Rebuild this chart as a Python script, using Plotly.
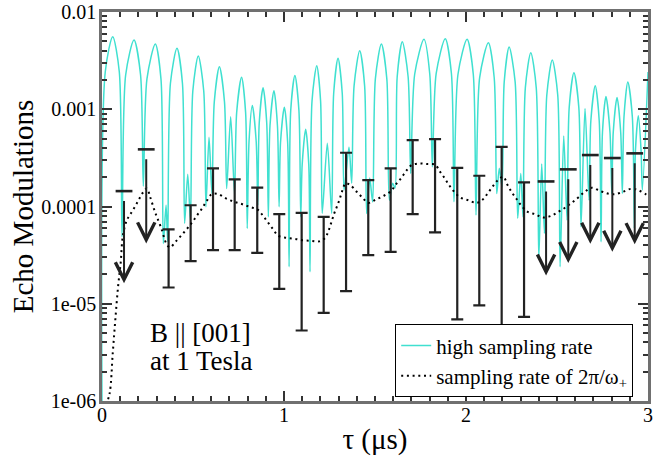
import math
import plotly.graph_objects as go

# ---- data ----
cyan_tau = [0.0, 0.018, 0.059, 0.095, 0.110, 0.130, 0.176, 0.212, 0.227, 0.247,
            0.293, 0.324, 0.337, 0.352, 0.361, 0.376, 0.412, 0.442, 0.454, 0.471,
            0.486, 0.499, 0.529, 0.559, 0.571, 0.588, 0.604, 0.617, 0.645, 0.673,
            0.685, 0.707, 0.728, 0.740, 0.767, 0.789, 0.798, 0.808, 0.826, 0.847,
            0.856, 0.864, 0.885, 0.905, 0.914, 0.923, 0.945, 0.964, 0.973, 0.981,
            1.002, 1.020, 1.028, 1.037, 1.060, 1.082, 1.092, 1.100, 1.119, 1.136,
            1.143, 1.154, 1.180, 1.201, 1.210, 1.238, 1.262, 1.273, 1.297, 1.320,
            1.330, 1.357, 1.372, 1.385, 1.416, 1.443, 1.454, 1.471, 1.487, 1.502,
            1.535, 1.565, 1.579, 1.597, 1.610, 1.622, 1.650, 1.682, 1.696, 1.718,
            1.769, 1.801, 1.815, 1.836, 1.886, 1.920, 1.934, 1.956, 2.006, 2.040,
            2.055, 2.075, 2.123, 2.155, 2.169, 2.183, 2.198, 2.210, 2.237, 2.270,
            2.284, 2.301, 2.313, 2.326, 2.356, 2.386, 2.400, 2.416, 2.431, 2.444,
            2.474, 2.504, 2.517, 2.537, 2.555, 2.567, 2.593, 2.620, 2.632, 2.654,
            2.676, 2.686, 2.710, 2.732, 2.742, 2.750, 2.769, 2.791, 2.801, 2.809,
            2.830, 2.850, 2.859, 2.868, 2.889, 2.914, 2.925, 2.931, 2.947, 2.962,
            2.969, 3.0]
cyan_val = [9.1e-7, 2.43e-3, 5.57e-3, 2.43e-3, 4.88e-5, 2.25e-3, 5.15e-3, 2.25e-3, 1.62e-4, 2.05e-3,
            4.69e-3, 2.05e-3, 4.17e-5, 1.03e-4, 4.33e-5, 1.85e-3, 4.23e-3, 1.85e-3, 6.70e-5, 2.15e-4,
            7.24e-5, 1.54e-3, 3.53e-3, 1.54e-3, 9.93e-5, 5.14e-4, 1.36e-4, 1.19e-3, 2.74e-3, 1.19e-3,
            1.53e-4, 8.37e-4, 1.36e-4, 9.29e-4, 2.13e-3, 9.29e-4, 5.95e-5, 4.74e-4, 1.09e-3, 4.74e-4,
            1.03e-4, 7.26e-4, 1.66e-3, 7.26e-4, 7.83e-5, 6.76e-4, 1.55e-3, 6.76e-4, 9.93e-5, 4.57e-4,
            1.05e-3, 4.57e-4, 2.40e-5, 9.74e-4, 2.23e-3, 9.74e-4, 7.83e-5, 2.71e-4, 6.21e-4, 2.71e-4,
            2.13e-5, 1.22e-3, 2.80e-3, 1.22e-3, 8.49e-5, 4.46e-4, 8.49e-5, 1.46e-3, 3.34e-3, 1.46e-3,
            1.48e-4, 4.06e-4, 1.73e-4, 1.74e-3, 4.00e-3, 1.74e-3, 8.49e-5, 1.96e-4, 1.11e-4, 2.05e-3,
            4.69e-3, 2.05e-3, 1.16e-4, 1.73e-4, 1.55e-4, 2.16e-3, 4.94e-3, 2.16e-3, 2.19e-4, 2.29e-3,
            5.24e-3, 2.29e-3, 2.56e-4, 2.32e-3, 5.31e-3, 2.32e-3, 1.12e-4, 2.29e-3, 5.24e-3, 2.29e-3,
            8.16e-5, 2.11e-3, 4.83e-3, 2.11e-3, 1.36e-4, 2.47e-4, 1.59e-4, 1.91e-3, 4.36e-3, 1.91e-3,
            7.55e-5, 2.19e-4, 7.83e-5, 1.66e-3, 3.81e-3, 1.66e-3, 2.92e-5, 2.73e-4, 5.28e-5, 1.40e-3,
            3.21e-3, 1.40e-3, 2.40e-5, 5.30e-4, 7.24e-5, 1.04e-3, 2.37e-3, 1.04e-3, 6.18e-5, 1.02e-3,
            1.16e-4, 7.62e-4, 1.74e-3, 7.62e-4, 4.33e-5, 5.87e-4, 1.35e-3, 5.87e-4, 1.36e-4, 5.78e-4,
            1.32e-3, 5.78e-4, 1.36e-4, 8.31e-4, 1.91e-3, 8.31e-4, 5.95e-5, 3.74e-4, 8.57e-4, 3.74e-4,
            1.48e-4, 2.41e-3]

dot_tau = [0.022, 0.042, 0.059, 0.073, 0.088, 0.103, 0.114, 0.136, 0.159, 0.183,
           0.205, 0.227, 0.247, 0.264, 0.293, 0.326, 0.355, 0.374, 0.407, 0.438,
           0.469, 0.496, 0.524, 0.549, 0.575, 0.603, 0.639, 0.681, 0.725, 0.768,
           0.812, 0.855, 0.885, 0.912, 0.941, 0.969, 1.013, 1.057, 1.103, 1.150,
           1.194, 1.225, 1.244, 1.260, 1.275, 1.290, 1.306, 1.320, 1.339, 1.364,
           1.399, 1.430, 1.463, 1.505, 1.549, 1.588, 1.615, 1.643, 1.670, 1.699,
           1.740, 1.787, 1.830, 1.857, 1.883, 1.908, 1.936, 1.967, 2.013, 2.059,
           2.092, 2.121, 2.148, 2.176, 2.205, 2.229, 2.254, 2.280, 2.306, 2.339,
           2.383, 2.423, 2.467, 2.507, 2.544, 2.581, 2.617, 2.654, 2.691, 2.735,
           2.779, 2.819, 2.863, 2.907, 2.947, 2.987, 3.0]
dot_val = [9.1e-7, 1.2e-6, 3.1e-6, 6.8e-6, 1.48e-5, 2.7e-5, 4.9e-5, 7.2e-5, 8.5e-5, 1.01e-4,
           1.2e-4, 1.41e-4, 1.53e-4, 1.26e-4, 8.6e-5, 5.96e-5, 4.1e-5, 3.8e-5, 4.4e-5, 5.1e-5,
           5.96e-5, 6.9e-5, 8.2e-5, 9.5e-5, 1.14e-4, 1.34e-4, 1.34e-4, 1.21e-4, 1.12e-4, 1.06e-4,
           9.9e-5, 9.3e-5, 8.0e-5, 6.86e-5, 5.8e-5, 5.0e-5, 4.77e-5, 4.66e-5, 4.5e-5, 4.44e-5,
           4.38e-5, 4.73e-5, 5.6e-5, 6.86e-5, 8.4e-5, 9.9e-5, 1.19e-4, 1.45e-4, 1.73e-4, 1.66e-4,
           1.42e-4, 1.24e-4, 1.09e-4, 1.18e-4, 1.29e-4, 1.44e-4, 1.69e-4, 1.95e-4, 2.3e-4, 2.65e-4,
           2.77e-4, 2.73e-4, 2.69e-4, 2.28e-4, 1.95e-4, 1.65e-4, 1.41e-4, 1.24e-4, 1.16e-4, 1.09e-4,
           1.18e-4, 1.38e-4, 1.62e-4, 1.87e-4, 2.02e-4, 1.65e-4, 1.38e-4, 1.18e-4, 1.01e-4, 8.8e-5,
           8.3e-5, 7.7e-5, 8.0e-5, 8.8e-5, 9.7e-5, 1.09e-4, 1.24e-4, 1.42e-4, 1.56e-4, 1.45e-4,
           1.36e-4, 1.34e-4, 1.42e-4, 1.52e-4, 1.47e-4, 1.34e-4, 1.3e-4]

bar_tau = [0.121, 0.243, 0.366, 0.487, 0.610, 0.729, 0.853, 0.974, 1.097, 1.218, 1.341, 1.463,
           1.586, 1.707, 1.830, 1.952, 2.073, 2.196, 2.319, 2.440, 2.562, 2.683, 2.804, 2.927]
bar_top = [1.44e-4, 3.87e-4, 5.81e-5, 1.03e-4, 2.47e-4, 1.90e-4, 1.56e-4, 8.35e-5, 8.6e-5, 7.83e-5,
           3.57e-4, 1.87e-4, 2.47e-4, 4.82e-4, 4.94e-4, 2.50e-4, 2.07e-4, 4.11e-4, 1.77e-4, 1.81e-4,
           2.41e-4, 3.38e-4, 3.15e-4, 3.52e-4]
bar_low = [1.62e-5, 4.17e-5, 1.47e-5, 2.74e-5, 3.56e-5, 3.56e-5, 3.34e-5, 1.42e-5, 5.31e-6, 8.04e-6,
           1.35e-5, 3.16e-5, 3.42e-5, 8.35e-5, 5.41e-5, 6.9e-6, 9.6e-6, 1.5e-6, 7.33e-6, 1.95e-5,
           2.62e-5, 4.13e-5, 3.42e-5, 4.1e-5]
upper_limit = [True, True] + [False] * 17 + [True] * 5

y_tickvals = [1e-6, 1e-5, 1e-4, 1e-3, 1e-2]
y_ticktext = ["1e-06", "1e-05", "0.0001", "0.001", "0.01"]
x_tickvals = [0, 1, 2, 3]
x_ticktext = ["0", "1", "2", "3"]
label_lines = ["B || [001]", "at 1 Tesla"]

SERIF = "Liberation Serif, Times New Roman, serif"
BAR_COLOR = "#222222"
CYAN = "#40E0D0"

fig = go.Figure()

fig.add_trace(go.Scatter(
    x=cyan_tau, y=cyan_val, mode="lines", name="high sampling rate",
    line=dict(color=CYAN, width=1.5, shape="spline", smoothing=0.8),
))

# capped error bars
cap_t = [t for t, u in zip(bar_tau, upper_limit) if not u]
cap_top = [v for v, u in zip(bar_top, upper_limit) if not u]
cap_low = [v for v, u in zip(bar_low, upper_limit) if not u]
fig.add_trace(go.Scatter(
    x=cap_t, y=cap_top, mode="markers", showlegend=False,
    marker=dict(size=1, color="rgba(0,0,0,0)"),
    error_y=dict(type="data", symmetric=False, array=[0] * len(cap_t),
                 arrayminus=[a - b for a, b in zip(cap_top, cap_low)],
                 width=6, thickness=2.2, color=BAR_COLOR),
))

# caps of the upper-limit bars
ul_t = [t for t, u in zip(bar_tau, upper_limit) if u]
ul_top = [v for v, u in zip(bar_top, upper_limit) if u]
ul_low = [v for v, u in zip(bar_low, upper_limit) if u]
fig.add_trace(go.Scatter(
    x=ul_t, y=ul_top, mode="markers", showlegend=False,
    marker=dict(symbol="line-ew", size=12, line=dict(width=2.6, color=BAR_COLOR)),
))

fig.add_trace(go.Scatter(
    x=dot_tau, y=dot_val, mode="lines", name="sampling rate of 2π/ω<sub>+</sub>",
    line=dict(color="black", width=2, dash="2px,3.7px", shape="spline"),
))

annotations = []
for t, top, low in zip(ul_t, ul_top, ul_low):
    annotations.append(dict(
        x=t, y=math.log10(low), ax=t, ay=math.log10(top),
        xref="x", yref="y", axref="x", ayref="y",
        showarrow=True, arrowhead=5, arrowsize=1.7, arrowwidth=2,
        arrowcolor=BAR_COLOR, text=" ", standoff=0,
    ))
for txt, yy in zip(label_lines, [0.175, 0.103]):
    annotations.append(dict(
        x=0.084, y=yy, xref="paper", yref="paper", xanchor="left", yanchor="middle",
        align="left", showarrow=False, text=txt,
        font=dict(family=SERIF, size=27, color="black"),
    ))

axis_common = dict(
    showline=True, linecolor="#707070", linewidth=2.5, mirror="ticks",
    ticks="inside", ticklen=10, tickwidth=1.5, tickcolor="#333333",
    showgrid=False, zeroline=False, automargin=False,
    tickfont=dict(family=SERIF, size=20, color="black"),
)

fig.update_layout(
    width=672, height=462,
    margin=dict(l=102, r=24, t=12, b=61),
    paper_bgcolor="white", plot_bgcolor="white",
    xaxis=dict(range=[0, 3], tickmode="array", tickvals=x_tickvals, ticktext=x_ticktext,
               ticklabelstandoff=-6,
               minor=dict(ticks="inside", ticklen=5, dtick=0.1, tick0=0,
                          tickwidth=1.5, tickcolor="#333333"),
               title=dict(text="τ (μs)", font=dict(family=SERIF, size=29, color="black"),
                          standoff=4),
               **axis_common),
    yaxis=dict(type="log", range=[-6, -2], tickmode="array", tickvals=y_tickvals,
               ticktext=y_ticktext, ticklabelstandoff=-1,
               minor=dict(ticks="inside", ticklen=5, dtick="D1",
                          tickwidth=1.5, tickcolor="#333333"),
               title=dict(text="Echo Modulations", font=dict(family=SERIF, size=29, color="black"),
                          standoff=0),
               **axis_common),
    legend=dict(x=0.537, y=0.197, xanchor="left", yanchor="top", bgcolor="white",
                bordercolor="black", borderwidth=1,
                font=dict(family=SERIF, size=21, color="black"), itemwidth=30),
    annotations=annotations,
    showlegend=True,
)

fig.write_html("out.html", config={"displayModeBar": False},
               post_script="document.body.style.margin='0';document.body.style.overflow='hidden';")
